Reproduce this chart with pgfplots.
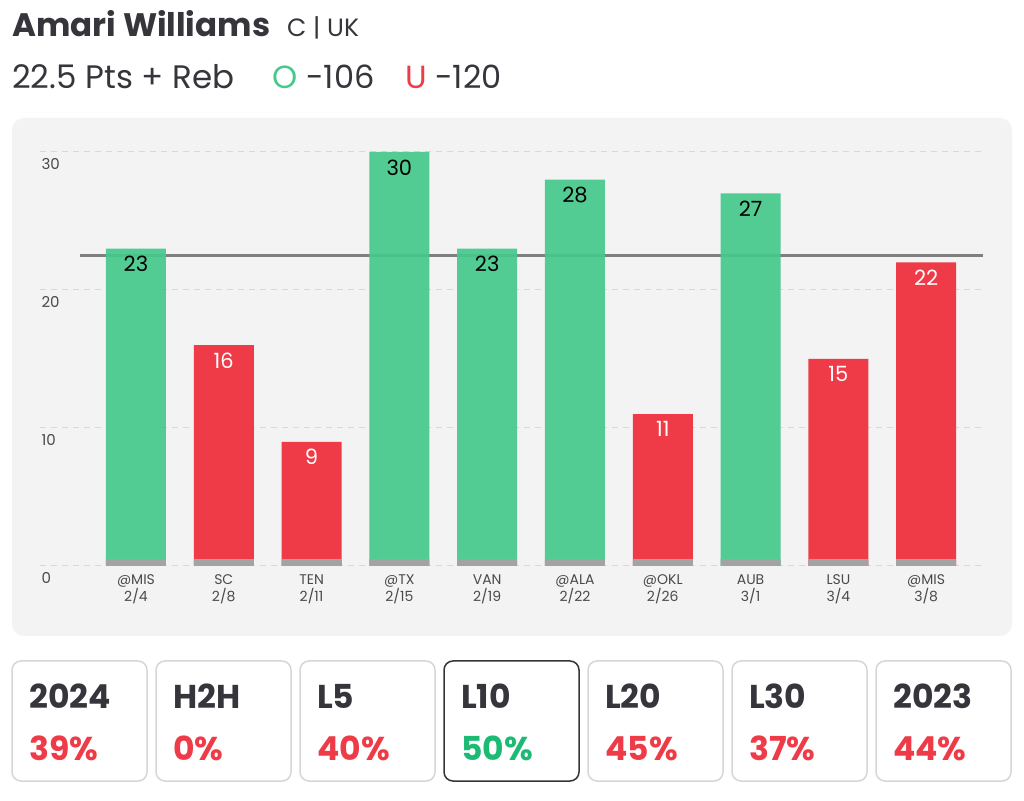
\documentclass[border=0pt]{standalone}
\usepackage{fontspec}
\setmainfont{Poppins}
\usepackage{pgfplots}
\pgfplotsset{compat=1.18}
\definecolor{panel}{HTML}{F3F3F3}
\definecolor{gbar}{HTML}{46C98B}
\definecolor{rbar}{HTML}{EE3B47}
\definecolor{gtxt}{HTML}{1DBA74}
\definecolor{dark}{HTML}{35353B}
\definecolor{tickc}{HTML}{4A4A4A}
\definecolor{gridc}{HTML}{D8D8D8}
\definecolor{strip}{HTML}{A3A3A3}
\definecolor{linec}{HTML}{7F7F7F}
\definecolor{cardb}{HTML}{D6D6D6}
\begin{document}
\begin{tikzpicture}[x=1pt,y=1pt]
\path[use as bounding box, fill=white] (0,0) rectangle (1024,800);
\fill[panel, rounded corners=12pt] (12,164) rectangle (1012,682);
% header
\node[anchor=base west, inner sep=0, text=dark, font=\fontsize{32.5}{32.5}\selectfont\bfseries] at (12,763) {Amari Williams};
\node[anchor=base west, inner sep=0, text=dark, font=\fontsize{25}{25}\selectfont] at (287,763) {C | UK};
\node[anchor=base west, inner sep=0, text=dark, font=\fontsize{32.5}{32.5}\selectfont] at (12,711) {22.5 Pts + Reb};
\node[anchor=base west, inner sep=0, text=gbar, font=\fontsize{32}{32}\selectfont] at (272,711) {O};
\node[anchor=base west, inner sep=0, text=dark, font=\fontsize{32}{32}\selectfont] at (306,711) {-106};
\node[anchor=base west, inner sep=0, text=rbar, font=\fontsize{32}{32}\selectfont] at (405,711) {U};
\node[anchor=base west, inner sep=0, text=dark, font=\fontsize{32}{32}\selectfont] at (435,711) {-120};
\begin{axis}[
  at={(40pt,234pt)}, anchor=south west,
  scale only axis, width=945pt, height=414pt,
  xmin=-1.093, xmax=9.67, ymin=0, ymax=30,
  axis line style={draw=none}, major tick length=0pt,
  ytick={0,10,20,30}, ymajorgrids,
  grid style={gridc, line width=1pt, dash pattern=on 6pt off 5pt},
  /pgf/number format/assume math mode=true,
  yticklabel style={anchor=west, yshift=-12pt, xshift=-2pt, font=\fontsize{15}{15}\selectfont, text=tickc},
  xtick={0,...,9},
  xticklabels={{@MIS\\2/4},{SC\\2/8},{TEN\\2/11},{@TX\\2/15},{VAN\\2/19},{@ALA\\2/22},{@OKL\\2/26},{AUB\\3/1},{LSU\\3/4},{@MIS\\3/8}},
  xticklabel style={align=center, font=\fontsize{14}{17}\selectfont, text=tickc, yshift=-5pt},
]
\addplot[linec, line width=3pt] coordinates {(-0.64,22.5) (9.65,22.5)};
\addplot[ybar, bar width=60pt, bar shift=0pt, fill=gbar, fill opacity=0.92, draw=none,
  nodes near coords, nodes near coords style={anchor=north, yshift=-4pt, text=black, text opacity=1, font=\fontsize{21}{21}\selectfont}]
  coordinates {(0,23) (3,30) (4,23) (5,28) (7,27)};
\addplot[ybar, bar width=60pt, bar shift=0pt, fill=rbar, draw=none,
  nodes near coords, nodes near coords style={anchor=north, yshift=-4pt, text=white, font=\fontsize{21}{21}\selectfont}]
  coordinates {(1,16) (2,9) (6,11) (8,15) (9,22)};
\addplot[ybar, bar width=60pt, bar shift=0pt, fill=strip, draw=none]
  coordinates {(0,0.5) (1,0.5) (2,0.5) (3,0.5) (4,0.5) (5,0.5) (6,0.5) (7,0.5) (8,0.5) (9,0.5)};
\end{axis}
% cards
\foreach \i/\t/\p/\c/\b in {0/2024/39\%/rbar/cardb, 1/H2H/0\%/rbar/cardb, 2/L5/40\%/rbar/cardb, 3/L10/50\%/gtxt/dark, 4/L20/45\%/rbar/cardb, 5/L30/37\%/rbar/cardb, 6/2023/44\%/rbar/cardb}{
  \pgfmathsetmacro{\xa}{12+144*\i}
  \draw[\b, line width=1.5pt, rounded corners=9pt, fill=white] (\xa,19) rectangle ++(135,120);
  \node[anchor=base west, inner sep=0, text=dark, font=\fontsize{33}{33}\selectfont\bfseries] at (\xa+17,92) {\t};
  \node[anchor=base west, inner sep=0, text=\c, font=\fontsize{33}{33}\selectfont\bfseries] at (\xa+17,40) {\p};
}
\end{tikzpicture}
\end{document}
